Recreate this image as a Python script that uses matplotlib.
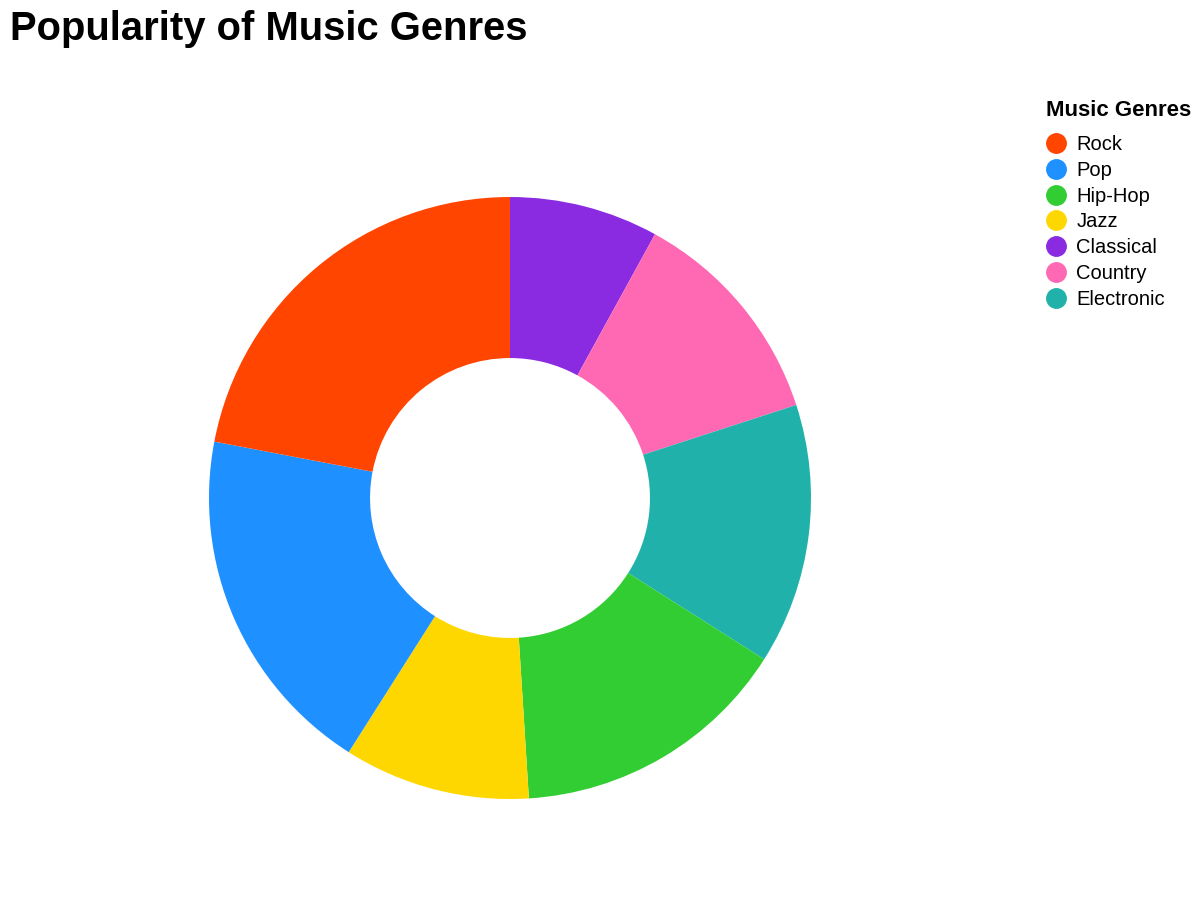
import matplotlib.pyplot as plt
from matplotlib.lines import Line2D

plt.rcParams['font.family'] = ['Liberation Sans', 'DejaVu Sans']

# data (legend order)
genres = ['Rock', 'Pop', 'Hip-Hop', 'Jazz', 'Classical', 'Country', 'Electronic']
popularity = [22, 19, 15, 10, 8, 12, 14]
colors = ['#FF4500', '#1E90FF', '#32CD32', '#FFD700', '#8A2BE2', '#FF69B4', '#20B2AA']

# slices are drawn in alphabetical order, clockwise from the top
order = sorted(range(len(genres)), key=lambda i: genres[i])
vals = [popularity[i] for i in order]
cols = [colors[i] for i in order]

fig = plt.figure(figsize=(12.02, 9.08), dpi=100)
ax = fig.add_axes([209 / 1202, 109 / 908, 602 / 1202, 602 / 908])
ax.pie(vals, colors=cols, startangle=90, counterclock=False, radius=1,
       wedgeprops=dict(width=0.535, linewidth=0))
ax.set_xlim(-1, 1)
ax.set_ylim(-1, 1)
ax.set_aspect('equal')
ax.axis('off')

fig.text(10 / 1202, 1 - 29 / 908, 'Popularity of Music Genres', fontsize=28.8,
         fontweight='bold', va='center', ha='left')

handles = [Line2D([], [], marker='o', linestyle='', markersize=14,
                  markerfacecolor=c, markeredgecolor=c) for c in colors]
leg = fig.legend(handles, genres, loc='upper left',
                 bbox_to_anchor=(1046 / 1202, 1 - 100 / 908), frameon=False,
                 title='Music Genres', fontsize=14.5, labelspacing=0.34,
                 handletextpad=0.5, handlelength=1.0, borderpad=0,
                 borderaxespad=0)
leg.get_title().set_fontweight('bold')
leg.get_title().set_fontsize(16)
leg._legend_box.align = 'left'
leg._legend_box.sep = 10
# nudge the entries (not the title) a little to the right
leg._legend_handle_box.set_offset(lambda w, h, x, y, r: (x + 2, y))

fig.savefig('out.png', dpi=100)
